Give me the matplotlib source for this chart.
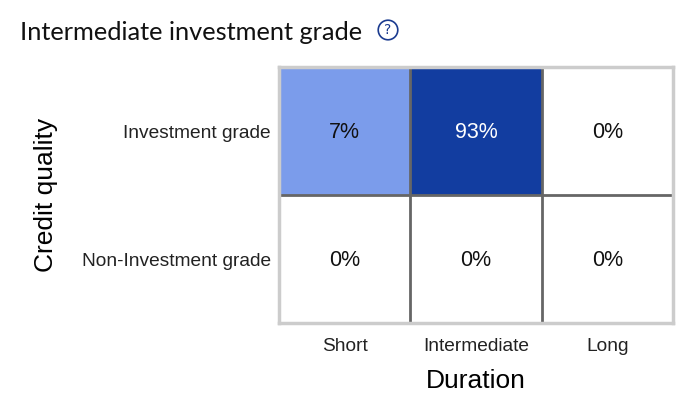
import matplotlib
matplotlib.use("Agg")
import matplotlib.pyplot as plt
import numpy as np
from matplotlib.colors import ListedColormap, BoundaryNorm

durations = ["Short", "Intermediate", "Long"]
qualities = ["Investment grade", "Non-Investment grade"]
values = [[7, 93, 0],
          [0, 0, 0]]

title = "Intermediate investment grade"
xlabel = "Duration"
ylabel = "Credit quality"

fig = plt.figure(figsize=(7, 4.16), dpi=100)
ax = fig.add_axes([279/700, 1-323/416, (673-279)/700, (323-67)/416])

data = np.array(values, dtype=float)
cmap = ListedColormap(["#ffffff", "#7b9ceb", "#123da0"])
norm = BoundaryNorm([-0.5, 0.5, 50, 101], cmap.N)
ax.pcolormesh(np.arange(len(durations)+1), np.arange(len(qualities)+1), data,
              cmap=cmap, norm=norm, edgecolor="none")
ax.set_xlim(0, len(durations))
ax.set_ylim(len(qualities), 0)
for x in range(1, len(durations)):
    ax.axvline(x, color="#666666", lw=2.0, zorder=2)
for y in range(1, len(qualities)):
    ax.axhline(y, color="#666666", lw=2.0, zorder=2)

for i in range(len(qualities)):
    for j in range(len(durations)):
        v = data[i, j]
        col = "white" if v > 50 else "#111111"
        ax.text(j+0.5, i+0.51, f"{int(v)}%", ha="center", va="center",
                fontsize=15.5, color=col, family="Liberation Sans")

ax.set_xticks(np.arange(len(durations))+0.5)
ax.set_xticklabels(durations, fontsize=13.8, family="Liberation Sans", color="#222222")
ax.set_yticks(np.arange(len(qualities))+0.5)
ax.set_yticklabels(qualities, fontsize=13.8, family="Liberation Sans", color="#222222")
ax.tick_params(length=0, pad=6)
ax.tick_params(axis="x", pad=11)
for s in ax.spines.values():
    s.set_color("#cccccc")
    s.set_linewidth(2.5)

ax.set_xlabel(xlabel, fontsize=19, family="Liberation Sans", labelpad=10)
ax.set_ylabel(ylabel, fontsize=19, family="Liberation Sans")
ax.yaxis.set_label_coords((58-279)/(673-279), 0.5)

fig.text(20/700, 1-32/416, title, fontsize=18.3, family="Lato", va="center", ha="left", color="#111111")
fig.text(388/700, 1-30/416, "?", fontsize=10, family="DejaVu Sans", va="center", ha="center",
         color="#1a3a8f",
         bbox=dict(boxstyle="circle,pad=0.2", fc="white", ec="#1a3a8f", lw=1.2))

fig.savefig("out.png", dpi=100)
